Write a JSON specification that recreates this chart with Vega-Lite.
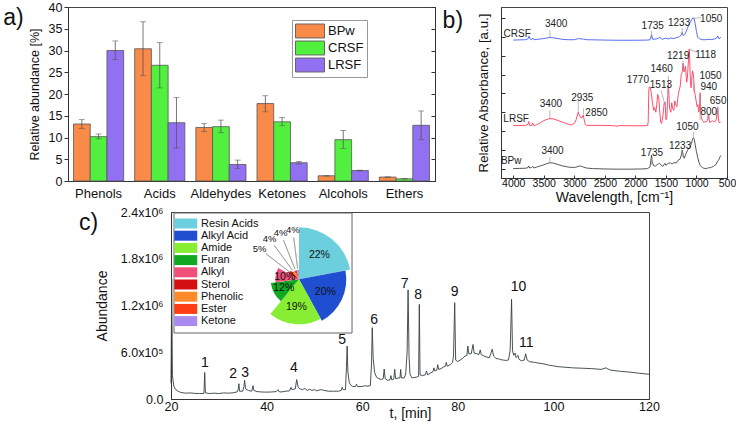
{
  "$schema": "https://vega.github.io/schema/vega-lite/v6.json",
  "padding": {"left": 2, "top": 0, "right": 0, "bottom": 0},
  "config": {
    "font": "Liberation Sans",
    "view": {"stroke": null},
    "axis": {"labelColor": "#111", "titleColor": "#111", "domainColor": "#333", "tickColor": "#333", "grid": false, "titleFontWeight": "normal", "labelOverlap": false, "labelFlush": false},
    "title": {"fontWeight": "normal", "color": "#111"},
    "legend": {"labelColor": "#111"}
  },
  "resolve": {"scale": {"color": "independent", "fill": "independent", "stroke": "independent"}, "legend": {"color": "independent", "fill": "independent", "stroke": "independent"}},
  "spacing": 0,
  "vconcat": [
    {
      "spacing": 6,
      "resolve": {"scale": {"color": "independent", "fill": "independent", "stroke": "independent"}, "legend": {"color": "independent", "fill": "independent", "stroke": "independent"}},
      "hconcat": [
        {
          "width": 367,
          "height": 174,
          "view": {"stroke": "#444", "strokeWidth": 1},
          "title": {"text": "a)", "orient": "left", "anchor": "end", "frame": "group", "angle": 0, "align": "right", "baseline": "top", "fontSize": 23, "offset": -16, "dy": 0},
          "data": {"values": [
            {"cat": "Phenols", "s": "BPw", "v": 13.1, "lo": 12.1, "hi": 14.1},
            {"cat": "Phenols", "s": "CRSF", "v": 10.2, "lo": 9.7, "hi": 10.8},
            {"cat": "Phenols", "s": "LRSF", "v": 30.0, "lo": 27.9, "hi": 32.2},
            {"cat": "Acids", "s": "BPw", "v": 30.4, "lo": 24.2, "hi": 36.6},
            {"cat": "Acids", "s": "CRSF", "v": 26.6, "lo": 21.4, "hi": 31.8},
            {"cat": "Acids", "s": "LRSF", "v": 13.4, "lo": 7.6, "hi": 19.2},
            {"cat": "Aldehydes", "s": "BPw", "v": 12.3, "lo": 11.4, "hi": 13.2},
            {"cat": "Aldehydes", "s": "CRSF", "v": 12.5, "lo": 11.1, "hi": 14.0},
            {"cat": "Aldehydes", "s": "LRSF", "v": 3.8, "lo": 2.9, "hi": 4.8},
            {"cat": "Ketones", "s": "BPw", "v": 17.8, "lo": 15.9, "hi": 19.6},
            {"cat": "Ketones", "s": "CRSF", "v": 13.6, "lo": 12.7, "hi": 14.6},
            {"cat": "Ketones", "s": "LRSF", "v": 4.2, "lo": 3.9, "hi": 4.5},
            {"cat": "Alcohols", "s": "BPw", "v": 1.2, "lo": 1.2, "hi": 1.2},
            {"cat": "Alcohols", "s": "CRSF", "v": 9.5, "lo": 7.5, "hi": 11.6},
            {"cat": "Alcohols", "s": "LRSF", "v": 2.4, "lo": 2.3, "hi": 2.5},
            {"cat": "Ethers", "s": "BPw", "v": 0.9, "lo": 0.9, "hi": 0.9},
            {"cat": "Ethers", "s": "CRSF", "v": 0.5, "lo": 0.5, "hi": 0.5},
            {"cat": "Ethers", "s": "LRSF", "v": 12.8, "lo": 9.5, "hi": 16.1}
          ]},
          "encoding": {
            "x": {"field": "cat", "type": "nominal", "sort": ["Phenols", "Acids", "Aldehydes", "Ketones", "Alcohols", "Ethers"], "scale": {"paddingInner": 0.18, "paddingOuter": 0.09}, "axis": {"title": null, "labelAngle": 0, "ticks": false, "labelFontSize": 13, "labelPadding": 6}},
            "xOffset": {"field": "s", "type": "nominal", "sort": ["BPw", "CRSF", "LRSF"], "scale": {"paddingInner": 0, "paddingOuter": 0}}
          },
          "layer": [
            {
              "mark": {"type": "bar", "stroke": "#555", "strokeWidth": 0.8},
              "encoding": {
                "y": {"field": "v", "type": "quantitative", "scale": {"domain": [0, 40], "nice": false}, "axis": {"title": "Relative abundance [%]", "values": [0, 5, 10, 15, 20, 25, 30, 35, 40], "tickSize": 4, "labelFontSize": 12.5, "titleFontSize": 12.5, "labelPadding": 2, "titlePadding": 7}},
                "fill": {"field": "s", "type": "nominal", "scale": {"domain": ["BPw", "CRSF", "LRSF"], "range": ["#FA8A48", "#52F03E", "#9270F2"]}, "legend": {"title": null, "orient": "none", "legendX": 224, "legendY": 13, "symbolType": "M-1,-0.93H2.87V0.93H-1Z", "symbolSize": 225, "symbolStrokeColor": "#666", "symbolStrokeWidth": 1, "labelFontSize": 13, "labelOffset": 17, "rowPadding": -1.6, "padding": 3, "strokeColor": "#999", "fillColor": "white"}}
              }
            },
            {
              "mark": {"type": "rule", "color": "#555", "strokeWidth": 0.8},
              "encoding": {
                "y": {"field": "lo", "type": "quantitative", "axis": {"orient": "right", "labels": false, "title": null, "tickSize": -4, "values": [0, 5, 10, 15, 20, 25, 30, 35, 40]}},
                "y2": {"field": "hi"}
              }
            },
            {
              "mark": {"type": "tick", "color": "#555", "thickness": 0.8, "size": 6},
              "encoding": {"y": {"field": "hi", "type": "quantitative", "axis": null}}
            },
            {
              "mark": {"type": "tick", "color": "#555", "thickness": 0.8, "size": 6},
              "encoding": {"y": {"field": "lo", "type": "quantitative", "axis": null}}
            }
          ],
          "resolve": {"axis": {"y": "independent"}}
        },
        {
          "width": 226,
          "height": 171,
          "view": {"stroke": "#444", "strokeWidth": 1},
          "title": {"text": "b)", "orient": "left", "anchor": "end", "frame": "group", "angle": 0, "align": "right", "baseline": "top", "fontSize": 23, "offset": -7, "dy": 3},
          "encoding": {
            "x": {"field": "w", "type": "quantitative", "scale": {"domain": [500, 4200], "reverse": true, "nice": false, "zero": false}, "axis": {"title": "Wavelength,  [cm⁻¹]", "values": [500, 1000, 1500, 2000, 2500, 3000, 3500, 4000], "format": "d", "labelOverlap": false, "labelSeparation": 0, "labelFontSize": 10.5, "titleFontSize": 14, "tickSize": -3, "labelPadding": 3, "titlePadding": 2}},
            "y": {"field": "a", "type": "quantitative", "scale": {"domain": [-0.5, 8.6], "nice": false, "zero": false}, "axis": {"title": "Relative Absorbance, [a.u.]", "values": [0, 1, 2, 3, 4, 5, 6, 7, 8], "labels": false, "tickSize": -4, "titleFontSize": 13.3, "titlePadding": 10}}
          },
          "layer": [
            {
              "data": {"values": [
                {"s": "CRSF", "w": 4000, "a": 6.84}, {"s": "CRSF", "w": 3900, "a": 6.85}, {"s": "CRSF", "w": 3800, "a": 6.86}, {"s": "CRSF", "w": 3760, "a": 6.9}, {"s": "CRSF", "w": 3740, "a": 7.05}, {"s": "CRSF", "w": 3720, "a": 6.88}, {"s": "CRSF", "w": 3700, "a": 6.86}, {"s": "CRSF", "w": 3680, "a": 6.95}, {"s": "CRSF", "w": 3660, "a": 6.86}, {"s": "CRSF", "w": 3600, "a": 6.88}, {"s": "CRSF", "w": 3500, "a": 6.92}, {"s": "CRSF", "w": 3400, "a": 6.98}, {"s": "CRSF", "w": 3300, "a": 6.94}, {"s": "CRSF", "w": 3200, "a": 6.88}, {"s": "CRSF", "w": 3100, "a": 6.86}, {"s": "CRSF", "w": 3000, "a": 6.86}, {"s": "CRSF", "w": 2930, "a": 6.92}, {"s": "CRSF", "w": 2850, "a": 6.89}, {"s": "CRSF", "w": 2800, "a": 6.86}, {"s": "CRSF", "w": 2500, "a": 6.84}, {"s": "CRSF", "w": 2300, "a": 6.83}, {"s": "CRSF", "w": 2000, "a": 6.83}, {"s": "CRSF", "w": 1800, "a": 6.84}, {"s": "CRSF", "w": 1760, "a": 6.86}, {"s": "CRSF", "w": 1735, "a": 7.12}, {"s": "CRSF", "w": 1715, "a": 6.88}, {"s": "CRSF", "w": 1650, "a": 6.9}, {"s": "CRSF", "w": 1600, "a": 6.98}, {"s": "CRSF", "w": 1560, "a": 6.88}, {"s": "CRSF", "w": 1510, "a": 6.94}, {"s": "CRSF", "w": 1460, "a": 6.9}, {"s": "CRSF", "w": 1420, "a": 6.95}, {"s": "CRSF", "w": 1370, "a": 6.92}, {"s": "CRSF", "w": 1320, "a": 6.98}, {"s": "CRSF", "w": 1280, "a": 7.02}, {"s": "CRSF", "w": 1250, "a": 7.1}, {"s": "CRSF", "w": 1233, "a": 7.25}, {"s": "CRSF", "w": 1215, "a": 7.08}, {"s": "CRSF", "w": 1180, "a": 7.2}, {"s": "CRSF", "w": 1150, "a": 7.45}, {"s": "CRSF", "w": 1120, "a": 7.7}, {"s": "CRSF", "w": 1090, "a": 7.85}, {"s": "CRSF", "w": 1060, "a": 8.02}, {"s": "CRSF", "w": 1040, "a": 8.0}, {"s": "CRSF", "w": 1020, "a": 7.7}, {"s": "CRSF", "w": 1000, "a": 7.3}, {"s": "CRSF", "w": 980, "a": 7.0}, {"s": "CRSF", "w": 950, "a": 6.9}, {"s": "CRSF", "w": 900, "a": 6.86}, {"s": "CRSF", "w": 850, "a": 6.86}, {"s": "CRSF", "w": 800, "a": 6.88}, {"s": "CRSF", "w": 750, "a": 6.87}, {"s": "CRSF", "w": 700, "a": 6.9}, {"s": "CRSF", "w": 670, "a": 6.95}, {"s": "CRSF", "w": 650, "a": 7.06}, {"s": "CRSF", "w": 630, "a": 6.9}, {"s": "CRSF", "w": 610, "a": 6.96}, {"s": "CRSF", "w": 600, "a": 7.0},
                {"s": "LRSF", "w": 4000, "a": 2.3}, {"s": "LRSF", "w": 3900, "a": 2.29}, {"s": "LRSF", "w": 3800, "a": 2.3}, {"s": "LRSF", "w": 3760, "a": 2.35}, {"s": "LRSF", "w": 3745, "a": 2.5}, {"s": "LRSF", "w": 3730, "a": 2.3}, {"s": "LRSF", "w": 3700, "a": 2.28}, {"s": "LRSF", "w": 3680, "a": 2.42}, {"s": "LRSF", "w": 3660, "a": 2.28}, {"s": "LRSF", "w": 3620, "a": 2.33}, {"s": "LRSF", "w": 3550, "a": 2.45}, {"s": "LRSF", "w": 3500, "a": 2.55}, {"s": "LRSF", "w": 3450, "a": 2.62}, {"s": "LRSF", "w": 3400, "a": 2.66}, {"s": "LRSF", "w": 3350, "a": 2.65}, {"s": "LRSF", "w": 3300, "a": 2.6}, {"s": "LRSF", "w": 3200, "a": 2.48}, {"s": "LRSF", "w": 3100, "a": 2.36}, {"s": "LRSF", "w": 3050, "a": 2.32}, {"s": "LRSF", "w": 3000, "a": 2.4}, {"s": "LRSF", "w": 2970, "a": 2.6}, {"s": "LRSF", "w": 2945, "a": 2.9}, {"s": "LRSF", "w": 2935, "a": 3.0}, {"s": "LRSF", "w": 2920, "a": 2.85}, {"s": "LRSF", "w": 2890, "a": 2.7}, {"s": "LRSF", "w": 2870, "a": 2.72}, {"s": "LRSF", "w": 2855, "a": 2.85}, {"s": "LRSF", "w": 2845, "a": 2.7}, {"s": "LRSF", "w": 2820, "a": 2.35}, {"s": "LRSF", "w": 2800, "a": 2.3}, {"s": "LRSF", "w": 2600, "a": 2.3}, {"s": "LRSF", "w": 2400, "a": 2.29}, {"s": "LRSF", "w": 2300, "a": 2.26}, {"s": "LRSF", "w": 2250, "a": 2.29}, {"s": "LRSF", "w": 2100, "a": 2.28}, {"s": "LRSF", "w": 1900, "a": 2.28}, {"s": "LRSF", "w": 1800, "a": 2.29}, {"s": "LRSF", "w": 1790, "a": 2.5}, {"s": "LRSF", "w": 1780, "a": 4.2}, {"s": "LRSF", "w": 1770, "a": 4.35}, {"s": "LRSF", "w": 1755, "a": 4.3}, {"s": "LRSF", "w": 1740, "a": 4.05}, {"s": "LRSF", "w": 1720, "a": 3.5}, {"s": "LRSF", "w": 1700, "a": 3.1}, {"s": "LRSF", "w": 1685, "a": 3.25}, {"s": "LRSF", "w": 1665, "a": 3.0}, {"s": "LRSF", "w": 1650, "a": 3.4}, {"s": "LRSF", "w": 1635, "a": 3.95}, {"s": "LRSF", "w": 1615, "a": 3.7}, {"s": "LRSF", "w": 1600, "a": 3.0}, {"s": "LRSF", "w": 1585, "a": 2.45}, {"s": "LRSF", "w": 1570, "a": 2.4}, {"s": "LRSF", "w": 1545, "a": 2.9}, {"s": "LRSF", "w": 1530, "a": 3.45}, {"s": "LRSF", "w": 1513, "a": 3.55}, {"s": "LRSF", "w": 1500, "a": 2.6}, {"s": "LRSF", "w": 1485, "a": 2.7}, {"s": "LRSF", "w": 1470, "a": 3.9}, {"s": "LRSF", "w": 1460, "a": 4.65}, {"s": "LRSF", "w": 1450, "a": 3.9}, {"s": "LRSF", "w": 1440, "a": 3.2}, {"s": "LRSF", "w": 1420, "a": 3.0}, {"s": "LRSF", "w": 1405, "a": 3.5}, {"s": "LRSF", "w": 1390, "a": 3.2}, {"s": "LRSF", "w": 1370, "a": 3.1}, {"s": "LRSF", "w": 1355, "a": 3.6}, {"s": "LRSF", "w": 1340, "a": 3.4}, {"s": "LRSF", "w": 1320, "a": 3.3}, {"s": "LRSF", "w": 1300, "a": 3.9}, {"s": "LRSF", "w": 1280, "a": 4.2}, {"s": "LRSF", "w": 1265, "a": 4.4}, {"s": "LRSF", "w": 1250, "a": 5.0}, {"s": "LRSF", "w": 1235, "a": 5.1}, {"s": "LRSF", "w": 1219, "a": 5.6}, {"s": "LRSF", "w": 1205, "a": 5.15}, {"s": "LRSF", "w": 1190, "a": 5.3}, {"s": "LRSF", "w": 1180, "a": 5.45}, {"s": "LRSF", "w": 1170, "a": 5.0}, {"s": "LRSF", "w": 1160, "a": 4.6}, {"s": "LRSF", "w": 1150, "a": 4.8}, {"s": "LRSF", "w": 1140, "a": 5.3}, {"s": "LRSF", "w": 1130, "a": 5.8}, {"s": "LRSF", "w": 1122, "a": 6.35}, {"s": "LRSF", "w": 1115, "a": 6.35}, {"s": "LRSF", "w": 1108, "a": 5.5}, {"s": "LRSF", "w": 1098, "a": 4.6}, {"s": "LRSF", "w": 1088, "a": 4.3}, {"s": "LRSF", "w": 1078, "a": 4.7}, {"s": "LRSF", "w": 1065, "a": 5.2}, {"s": "LRSF", "w": 1055, "a": 5.1}, {"s": "LRSF", "w": 1045, "a": 4.8}, {"s": "LRSF", "w": 1035, "a": 4.2}, {"s": "LRSF", "w": 1020, "a": 3.9}, {"s": "LRSF", "w": 1005, "a": 3.6}, {"s": "LRSF", "w": 990, "a": 3.3}, {"s": "LRSF", "w": 975, "a": 3.4}, {"s": "LRSF", "w": 960, "a": 3.0}, {"s": "LRSF", "w": 948, "a": 3.3}, {"s": "LRSF", "w": 940, "a": 4.0}, {"s": "LRSF", "w": 932, "a": 3.0}, {"s": "LRSF", "w": 920, "a": 2.7}, {"s": "LRSF", "w": 900, "a": 2.55}, {"s": "LRSF", "w": 880, "a": 2.45}, {"s": "LRSF", "w": 860, "a": 2.5}, {"s": "LRSF", "w": 840, "a": 2.5}, {"s": "LRSF", "w": 820, "a": 2.55}, {"s": "LRSF", "w": 808, "a": 2.85}, {"s": "LRSF", "w": 800, "a": 2.9}, {"s": "LRSF", "w": 792, "a": 2.6}, {"s": "LRSF", "w": 780, "a": 2.45}, {"s": "LRSF", "w": 760, "a": 2.5}, {"s": "LRSF", "w": 740, "a": 2.55}, {"s": "LRSF", "w": 720, "a": 2.5}, {"s": "LRSF", "w": 700, "a": 2.5}, {"s": "LRSF", "w": 680, "a": 2.55}, {"s": "LRSF", "w": 665, "a": 2.9}, {"s": "LRSF", "w": 655, "a": 3.2}, {"s": "LRSF", "w": 650, "a": 3.25}, {"s": "LRSF", "w": 642, "a": 2.7}, {"s": "LRSF", "w": 630, "a": 2.45}, {"s": "LRSF", "w": 615, "a": 2.45}, {"s": "LRSF", "w": 600, "a": 2.5},
                {"s": "BPw", "w": 4000, "a": 0.0}, {"s": "BPw", "w": 3900, "a": 0.01}, {"s": "BPw", "w": 3800, "a": 0.02}, {"s": "BPw", "w": 3760, "a": 0.05}, {"s": "BPw", "w": 3745, "a": 0.14}, {"s": "BPw", "w": 3730, "a": 0.03}, {"s": "BPw", "w": 3700, "a": 0.06}, {"s": "BPw", "w": 3680, "a": 0.12}, {"s": "BPw", "w": 3660, "a": 0.03}, {"s": "BPw", "w": 3620, "a": 0.08}, {"s": "BPw", "w": 3550, "a": 0.15}, {"s": "BPw", "w": 3500, "a": 0.2}, {"s": "BPw", "w": 3450, "a": 0.27}, {"s": "BPw", "w": 3400, "a": 0.31}, {"s": "BPw", "w": 3350, "a": 0.3}, {"s": "BPw", "w": 3300, "a": 0.25}, {"s": "BPw", "w": 3200, "a": 0.15}, {"s": "BPw", "w": 3100, "a": 0.08}, {"s": "BPw", "w": 3000, "a": 0.06}, {"s": "BPw", "w": 2950, "a": 0.1}, {"s": "BPw", "w": 2920, "a": 0.14}, {"s": "BPw", "w": 2880, "a": 0.12}, {"s": "BPw", "w": 2850, "a": 0.08}, {"s": "BPw", "w": 2800, "a": 0.03}, {"s": "BPw", "w": 2700, "a": 0.0}, {"s": "BPw", "w": 2500, "a": -0.02}, {"s": "BPw", "w": 2300, "a": -0.03}, {"s": "BPw", "w": 2100, "a": -0.03}, {"s": "BPw", "w": 1900, "a": -0.02}, {"s": "BPw", "w": 1800, "a": 0.0}, {"s": "BPw", "w": 1760, "a": 0.1}, {"s": "BPw", "w": 1742, "a": 0.55}, {"s": "BPw", "w": 1735, "a": 0.72}, {"s": "BPw", "w": 1725, "a": 0.35}, {"s": "BPw", "w": 1700, "a": 0.15}, {"s": "BPw", "w": 1670, "a": 0.14}, {"s": "BPw", "w": 1640, "a": 0.22}, {"s": "BPw", "w": 1605, "a": 0.28}, {"s": "BPw", "w": 1580, "a": 0.2}, {"s": "BPw", "w": 1550, "a": 0.12}, {"s": "BPw", "w": 1515, "a": 0.28}, {"s": "BPw", "w": 1500, "a": 0.18}, {"s": "BPw", "w": 1460, "a": 0.28}, {"s": "BPw", "w": 1425, "a": 0.3}, {"s": "BPw", "w": 1400, "a": 0.24}, {"s": "BPw", "w": 1370, "a": 0.32}, {"s": "BPw", "w": 1330, "a": 0.3}, {"s": "BPw", "w": 1300, "a": 0.45}, {"s": "BPw", "w": 1270, "a": 0.5}, {"s": "BPw", "w": 1250, "a": 0.7}, {"s": "BPw", "w": 1233, "a": 0.98}, {"s": "BPw", "w": 1215, "a": 0.7}, {"s": "BPw", "w": 1200, "a": 0.55}, {"s": "BPw", "w": 1170, "a": 0.8}, {"s": "BPw", "w": 1150, "a": 0.95}, {"s": "BPw", "w": 1120, "a": 1.1}, {"s": "BPw", "w": 1100, "a": 1.2}, {"s": "BPw", "w": 1080, "a": 1.35}, {"s": "BPw", "w": 1060, "a": 1.6}, {"s": "BPw", "w": 1050, "a": 1.65}, {"s": "BPw", "w": 1035, "a": 1.55}, {"s": "BPw", "w": 1020, "a": 1.25}, {"s": "BPw", "w": 1000, "a": 0.9}, {"s": "BPw", "w": 980, "a": 0.6}, {"s": "BPw", "w": 960, "a": 0.35}, {"s": "BPw", "w": 940, "a": 0.18}, {"s": "BPw", "w": 920, "a": 0.1}, {"s": "BPw", "w": 900, "a": 0.05}, {"s": "BPw", "w": 880, "a": 0.02}, {"s": "BPw", "w": 850, "a": 0.0}, {"s": "BPw", "w": 820, "a": 0.02}, {"s": "BPw", "w": 800, "a": 0.05}, {"s": "BPw", "w": 780, "a": 0.04}, {"s": "BPw", "w": 750, "a": 0.08}, {"s": "BPw", "w": 720, "a": 0.12}, {"s": "BPw", "w": 700, "a": 0.18}, {"s": "BPw", "w": 680, "a": 0.22}, {"s": "BPw", "w": 660, "a": 0.35}, {"s": "BPw", "w": 645, "a": 0.42}, {"s": "BPw", "w": 630, "a": 0.5}, {"s": "BPw", "w": 615, "a": 0.62}, {"s": "BPw", "w": 600, "a": 0.7}
              ]},
              "mark": {"type": "line", "strokeWidth": 0.9},
              "encoding": {
                "stroke": {"field": "s", "type": "nominal", "scale": {"domain": ["CRSF", "LRSF", "BPw"], "range": ["#4A5CF0", "#FF3B5C", "#444444"]}, "legend": null}
              }
            },
            {
              "data": {"values": [
                {"w": 3400, "a": 7.0, "w2": 3400, "a2": 7.37}, {"w": 1735, "a": 6.92, "w2": 1735, "a2": 7.33}, {"w": 1233, "a": 7.12, "w2": 1233, "a2": 7.48}, {"w": 1050, "a": 8.0, "w2": 930, "a2": 8.03},
                {"w": 3400, "a": 2.66, "w2": 3400, "a2": 3.1}, {"w": 2935, "a": 3.0, "w2": 2935, "a2": 3.6}, {"w": 2850, "a": 2.88, "w2": 2850, "a2": 3.2}, {"w": 1219, "a": 5.2, "w2": 1219, "a2": 5.75}, {"w": 1118, "a": 6.35, "w2": 1000, "a2": 6.2}, {"w": 1460, "a": 3.98, "w2": 1460, "a2": 4.94}, {"w": 1513, "a": 3.37, "w2": 1580, "a2": 4.16}, {"w": 1050, "a": 4.1, "w2": 1050, "a2": 4.6}, {"w": 940, "a": 2.57, "w2": 940, "a2": 4.07}, {"w": 800, "a": 2.6, "w2": 800, "a2": 2.75}, {"w": 650, "a": 2.75, "w2": 650, "a2": 3.3},
                {"w": 3400, "a": 0.35, "w2": 3400, "a2": 0.62}, {"w": 1735, "a": 0.19, "w2": 1735, "a2": 0.56}, {"w": 1233, "a": 0.62, "w2": 1233, "a2": 0.92}, {"w": 1050, "a": 1.59, "w2": 1050, "a2": 1.95}
              ]},
              "mark": {"type": "rule", "color": "#999", "strokeWidth": 0.7},
              "encoding": {
                "x2": {"field": "w2"},
                "y2": {"field": "a2"}
              }
            },
            {
              "data": {"values": [
                {"w": 3935, "a": 7.14, "t": "CRSF"}, {"w": 3297, "a": 7.68, "t": "3400"}, {"w": 1716, "a": 7.58, "t": "1735"}, {"w": 1284, "a": 7.76, "t": "1233"}, {"w": 758, "a": 7.94, "t": "1050"},
                {"w": 3952, "a": 2.65, "t": "LRSF"}, {"w": 3383, "a": 3.45, "t": "3400"}, {"w": 2869, "a": 3.76, "t": "2935"}, {"w": 2637, "a": 2.97, "t": "2850"}, {"w": 1960, "a": 4.7, "t": "1770"}, {"w": 1582, "a": 4.43, "t": "1513"}, {"w": 1570, "a": 5.28, "t": "1460"}, {"w": 1301, "a": 5.99, "t": "1219"}, {"w": 851, "a": 6.06, "t": "1118"}, {"w": 770, "a": 4.93, "t": "1050"}, {"w": 798, "a": 4.34, "t": "940"}, {"w": 798, "a": 3.01, "t": "800"}, {"w": 645, "a": 3.58, "t": "650"},
                {"w": 4033, "a": 0.39, "t": "BPw"}, {"w": 3356, "a": 0.92, "t": "3400"}, {"w": 1728, "a": 0.83, "t": "1735"}, {"w": 1268, "a": 1.18, "t": "1233"}, {"w": 1148, "a": 2.21, "t": "1050"}
              ]},
              "mark": {"type": "text", "fontSize": 10, "color": "#222", "align": "center", "baseline": "middle"},
              "encoding": {
                "text": {"field": "t"}
              }
            }
          ]
        }
      ]
    },
    {
      "spacing": 9,
      "resolve": {"scale": {"color": "independent", "radius": "independent", "theta": "independent"}, "legend": {"color": "independent"}},
      "hconcat": [
        {"width": 1, "height": 1, "data": {"values": [{}]}, "mark": {"type": "text", "text": ""}, "encoding": {}},
        {
          "width": 478,
          "height": 187,
          "view": {"stroke": "#444", "strokeWidth": 1},
          "title": {"text": "c)", "orient": "left", "anchor": "end", "frame": "group", "angle": 0, "align": "right", "baseline": "top", "fontSize": 23, "offset": -22, "dy": 0},
          "resolve": {"scale": {"radius": "independent"}},
          "layer": [
            {
              "data": {"values": [
                {"t": 20.0, "v": 200000}, {"t": 20.15, "v": 1540000}, {"t": 20.3, "v": 300000}, {"t": 20.6, "v": 160000}, {"t": 21.0, "v": 120000}, {"t": 21.5, "v": 100000}, {"t": 22, "v": 85000}, {"t": 23, "v": 75000}, {"t": 24, "v": 78000}, {"t": 25, "v": 72000}, {"t": 26, "v": 70000}, {"t": 26.9, "v": 72000}, {"t": 27.05, "v": 340000}, {"t": 27.2, "v": 80000}, {"t": 28, "v": 70000}, {"t": 29, "v": 75000}, {"t": 30, "v": 70000}, {"t": 31, "v": 78000}, {"t": 32, "v": 75000}, {"t": 33, "v": 80000}, {"t": 33.8, "v": 90000}, {"t": 34.05, "v": 120000}, {"t": 34.2, "v": 196000}, {"t": 34.35, "v": 100000}, {"t": 35.0, "v": 100000}, {"t": 35.25, "v": 160000}, {"t": 35.4, "v": 240000}, {"t": 35.6, "v": 130000}, {"t": 36.2, "v": 110000}, {"t": 36.9, "v": 100000}, {"t": 37.15, "v": 170000}, {"t": 37.35, "v": 110000}, {"t": 38, "v": 95000}, {"t": 39, "v": 90000}, {"t": 40, "v": 88000}, {"t": 41, "v": 90000}, {"t": 42, "v": 95000}, {"t": 42.4, "v": 120000}, {"t": 42.6, "v": 95000}, {"t": 43, "v": 90000}, {"t": 44, "v": 100000}, {"t": 44.8, "v": 105000}, {"t": 45.1, "v": 150000}, {"t": 45.3, "v": 120000}, {"t": 46.0, "v": 130000}, {"t": 46.3, "v": 250000}, {"t": 46.6, "v": 150000}, {"t": 47, "v": 130000}, {"t": 47.5, "v": 120000}, {"t": 48.0, "v": 135000}, {"t": 48.5, "v": 110000}, {"t": 49, "v": 125000}, {"t": 49.5, "v": 110000}, {"t": 50, "v": 120000}, {"t": 50.5, "v": 105000}, {"t": 51, "v": 115000}, {"t": 51.5, "v": 120000}, {"t": 52, "v": 110000}, {"t": 53, "v": 100000}, {"t": 54, "v": 100000}, {"t": 55, "v": 100000}, {"t": 55.6, "v": 110000}, {"t": 55.8, "v": 150000}, {"t": 56.0, "v": 120000}, {"t": 56.5, "v": 120000}, {"t": 56.7, "v": 400000}, {"t": 56.85, "v": 680000}, {"t": 57.0, "v": 350000}, {"t": 57.3, "v": 210000}, {"t": 57.6, "v": 180000}, {"t": 58, "v": 160000}, {"t": 58.6, "v": 160000}, {"t": 58.8, "v": 190000}, {"t": 59.0, "v": 160000}, {"t": 60, "v": 160000}, {"t": 60.5, "v": 170000}, {"t": 61, "v": 165000}, {"t": 61.7, "v": 170000}, {"t": 61.95, "v": 450000}, {"t": 62.1, "v": 915000}, {"t": 62.3, "v": 520000}, {"t": 62.6, "v": 340000}, {"t": 63, "v": 280000}, {"t": 63.5, "v": 260000}, {"t": 64, "v": 250000}, {"t": 64.4, "v": 260000}, {"t": 64.6, "v": 385000}, {"t": 64.8, "v": 260000}, {"t": 65.3, "v": 240000}, {"t": 65.8, "v": 245000}, {"t": 66.0, "v": 300000}, {"t": 66.2, "v": 245000}, {"t": 66.6, "v": 255000}, {"t": 66.8, "v": 380000}, {"t": 67.0, "v": 260000}, {"t": 67.5, "v": 270000}, {"t": 67.9, "v": 270000}, {"t": 68.05, "v": 380000}, {"t": 68.2, "v": 270000}, {"t": 68.8, "v": 270000}, {"t": 69.1, "v": 320000}, {"t": 69.4, "v": 600000}, {"t": 69.6, "v": 1400000}, {"t": 69.8, "v": 550000}, {"t": 70.0, "v": 320000}, {"t": 70.4, "v": 270000}, {"t": 70.8, "v": 275000}, {"t": 71.3, "v": 280000}, {"t": 71.8, "v": 290000}, {"t": 71.95, "v": 1215000}, {"t": 72.1, "v": 310000}, {"t": 72.6, "v": 300000}, {"t": 73.2, "v": 310000}, {"t": 73.45, "v": 360000}, {"t": 73.7, "v": 310000}, {"t": 74.2, "v": 330000}, {"t": 74.8, "v": 350000}, {"t": 75.0, "v": 400000}, {"t": 75.2, "v": 360000}, {"t": 75.6, "v": 370000}, {"t": 75.8, "v": 440000}, {"t": 76.0, "v": 380000}, {"t": 76.5, "v": 390000}, {"t": 77.0, "v": 410000}, {"t": 77.4, "v": 420000}, {"t": 77.6, "v": 470000}, {"t": 77.8, "v": 420000}, {"t": 78.4, "v": 440000}, {"t": 78.9, "v": 470000}, {"t": 79.1, "v": 550000}, {"t": 79.35, "v": 1236000}, {"t": 79.55, "v": 500000}, {"t": 80, "v": 480000}, {"t": 80.5, "v": 500000}, {"t": 81, "v": 520000}, {"t": 81.5, "v": 550000}, {"t": 81.9, "v": 560000}, {"t": 82.1, "v": 680000}, {"t": 82.3, "v": 580000}, {"t": 82.8, "v": 580000}, {"t": 83.2, "v": 700000}, {"t": 83.4, "v": 590000}, {"t": 84.0, "v": 580000}, {"t": 84.4, "v": 570000}, {"t": 84.7, "v": 630000}, {"t": 84.9, "v": 570000}, {"t": 85.5, "v": 550000}, {"t": 86.0, "v": 540000}, {"t": 86.6, "v": 530000}, {"t": 87.0, "v": 600000}, {"t": 87.2, "v": 640000}, {"t": 87.5, "v": 550000}, {"t": 88, "v": 520000}, {"t": 88.5, "v": 515000}, {"t": 89, "v": 505000}, {"t": 89.5, "v": 500000}, {"t": 90, "v": 495000}, {"t": 90.6, "v": 500000}, {"t": 90.95, "v": 620000}, {"t": 91.25, "v": 1280000}, {"t": 91.45, "v": 620000}, {"t": 91.7, "v": 560000}, {"t": 92.0, "v": 590000}, {"t": 92.2, "v": 530000}, {"t": 92.6, "v": 560000}, {"t": 92.8, "v": 510000}, {"t": 93.3, "v": 490000}, {"t": 93.9, "v": 500000}, {"t": 94.2, "v": 580000}, {"t": 94.5, "v": 500000}, {"t": 95, "v": 480000}, {"t": 96, "v": 470000}, {"t": 97, "v": 460000}, {"t": 98, "v": 450000}, {"t": 99, "v": 435000}, {"t": 100, "v": 425000}, {"t": 101, "v": 415000}, {"t": 102, "v": 410000}, {"t": 104, "v": 400000}, {"t": 106, "v": 395000}, {"t": 108, "v": 390000}, {"t": 110, "v": 380000}, {"t": 111, "v": 400000}, {"t": 111.4, "v": 385000}, {"t": 112, "v": 370000}, {"t": 114, "v": 355000}, {"t": 116, "v": 345000}, {"t": 118, "v": 330000}, {"t": 120, "v": 318000}
              ]},
              "mark": {"type": "line", "color": "#34403F", "strokeWidth": 0.9},
              "encoding": {
                "x": {"field": "t", "type": "quantitative", "scale": {"domain": [20, 120], "nice": false, "zero": false}, "axis": {"title": "t, [min]", "values": [20, 40, 60, 80, 100, 120], "ticks": false, "labelFontSize": 12.5, "labelPadding": 1, "titleFontSize": 14, "titleY": 7, "titleBaseline": "top"}},
                "y": {"field": "v", "type": "quantitative", "scale": {"domain": [0, 2400000], "nice": false}, "axis": {"title": "Abundance", "values": [0, 600000, 1200000, 1800000, 2400000], "labelExpr": "datum.value == 0 ? '0.0' : datum.value == 600000 ? '6.0x10⁵' : datum.value == 1200000 ? '1.2x10⁶' : datum.value == 1800000 ? '1.8x10⁶' : '2.4x10⁶'", "ticks": false, "labelFontSize": 12.5, "labelPadding": 8, "titleFontSize": 14, "titlePadding": 11}}
              }
            },
            {
              "data": {"values": [{}]},
              "mark": {"type": "rect", "fill": "white", "stroke": "#666", "strokeWidth": 1},
              "encoding": {
                "x": {"datum": 20.63, "type": "quantitative"},
                "x2": {"datum": 57.87},
                "y": {"datum": 2387000, "type": "quantitative"},
                "y2": {"datum": 847000}
              }
            },
            {
              "data": {"values": [
                {"cat": "Resin Acids", "pct": 22, "rank": 1, "label": "22%"},
                {"cat": "Alkyl Acid", "pct": 20, "rank": 2, "label": "20%"},
                {"cat": "Amide", "pct": 19, "rank": 3, "label": "19%"},
                {"cat": "Furan", "pct": 12, "rank": 4, "label": "12%"},
                {"cat": "Alkyl", "pct": 10, "rank": 5, "label": "10%"},
                {"cat": "Sterol", "pct": 5, "rank": 6, "label": "5%"},
                {"cat": "Phenolic", "pct": 4, "rank": 7, "label": "4%"},
                {"cat": "Ester", "pct": 4, "rank": 8, "label": "4%"},
                {"cat": "Ketone", "pct": 4, "rank": 9, "label": "4%"}
              ]},
              "encoding": {
                "x": {"datum": 46.78, "type": "quantitative"},
                "y": {"datum": 1536000, "type": "quantitative"},
                "theta": {"field": "pct", "type": "quantitative", "stack": true},
                "order": {"field": "rank", "type": "quantitative"}
              },
              "resolve": {"scale": {"radius": "independent"}},
              "layer": [
                {
                  "mark": {"type": "arc", "stroke": "#999", "strokeWidth": 0.7, "fillOpacity": 0, "padAngle": 1.5, "radius": 42, "radius2": 11},
                  "encoding": {
                    "detail": {"field": "cat", "type": "nominal"},
                    "strokeOpacity": {"condition": {"test": "datum.pct < 10", "value": 1}, "value": 0}
                  }
                },
                {
                  "mark": {"type": "arc"},
                  "encoding": {
                    "radius": {"field": "pct", "type": "quantitative", "scale": {"type": "linear", "domain": [0, 22], "range": [0, 52], "zero": true}},
                    "color": {"field": "cat", "type": "nominal", "scale": {"domain": ["Resin Acids", "Alkyl Acid", "Amide", "Furan", "Alkyl", "Sterol", "Phenolic", "Ester", "Ketone"], "range": ["#6CCFDD", "#1F4FD0", "#88EE33", "#11A822", "#F0507A", "#D40F12", "#FF8A2A", "#FF3D14", "#A98BF0"]}, "legend": {"title": null, "orient": "none", "legendX": 3, "legendY": 5.5, "symbolType": "M-1,-0.87H3V0.87H-1Z", "symbolSize": 132, "symbolStrokeWidth": 0, "symbolOpacity": 1, "labelFontSize": 11, "labelOffset": 15, "rowPadding": 1.2, "padding": 0}}
                  }
                },
                {
                  "mark": {"type": "text", "fontSize": 10.5, "color": "#111"},
                  "encoding": {
                    "detail": {"field": "cat", "type": "nominal"},
                    "radius": {"field": "pct", "type": "quantitative", "scale": {"type": "linear", "domain": [0, 22], "range": [0, 32], "zero": true}},
                    "text": {"condition": {"test": "datum.pct >= 10", "field": "label"}, "value": ""}
                  }
                },
                {
                  "mark": {"type": "text", "fontSize": 9.5, "color": "#111", "radius": 50},
                  "encoding": {
                    "detail": {"field": "cat", "type": "nominal"},
                    "text": {"condition": {"test": "datum.pct < 10", "field": "label"}, "value": ""}
                  }
                }
              ]
            },
            {
              "data": {"values": [
                {"t": 27.1, "v": 460000, "n": "1"}, {"t": 33.0, "v": 325000, "n": "2"}, {"t": 35.5, "v": 340000, "n": "3"}, {"t": 45.7, "v": 400000, "n": "4"}, {"t": 55.8, "v": 757000, "n": "5"}, {"t": 62.5, "v": 1010000, "n": "6"}, {"t": 68.9, "v": 1480000, "n": "7"}, {"t": 71.7, "v": 1335000, "n": "8"}, {"t": 79.35, "v": 1373000, "n": "9"}, {"t": 92.7, "v": 1437000, "n": "10"}, {"t": 94.3, "v": 720000, "n": "11"}
              ]},
              "mark": {"type": "text", "fontSize": 14, "color": "#111", "align": "center", "baseline": "middle"},
              "encoding": {
                "x": {"field": "t", "type": "quantitative"},
                "y": {"field": "v", "type": "quantitative"},
                "text": {"field": "n"}
              }
            }
          ]
        }
      ]
    }
  ]
}
